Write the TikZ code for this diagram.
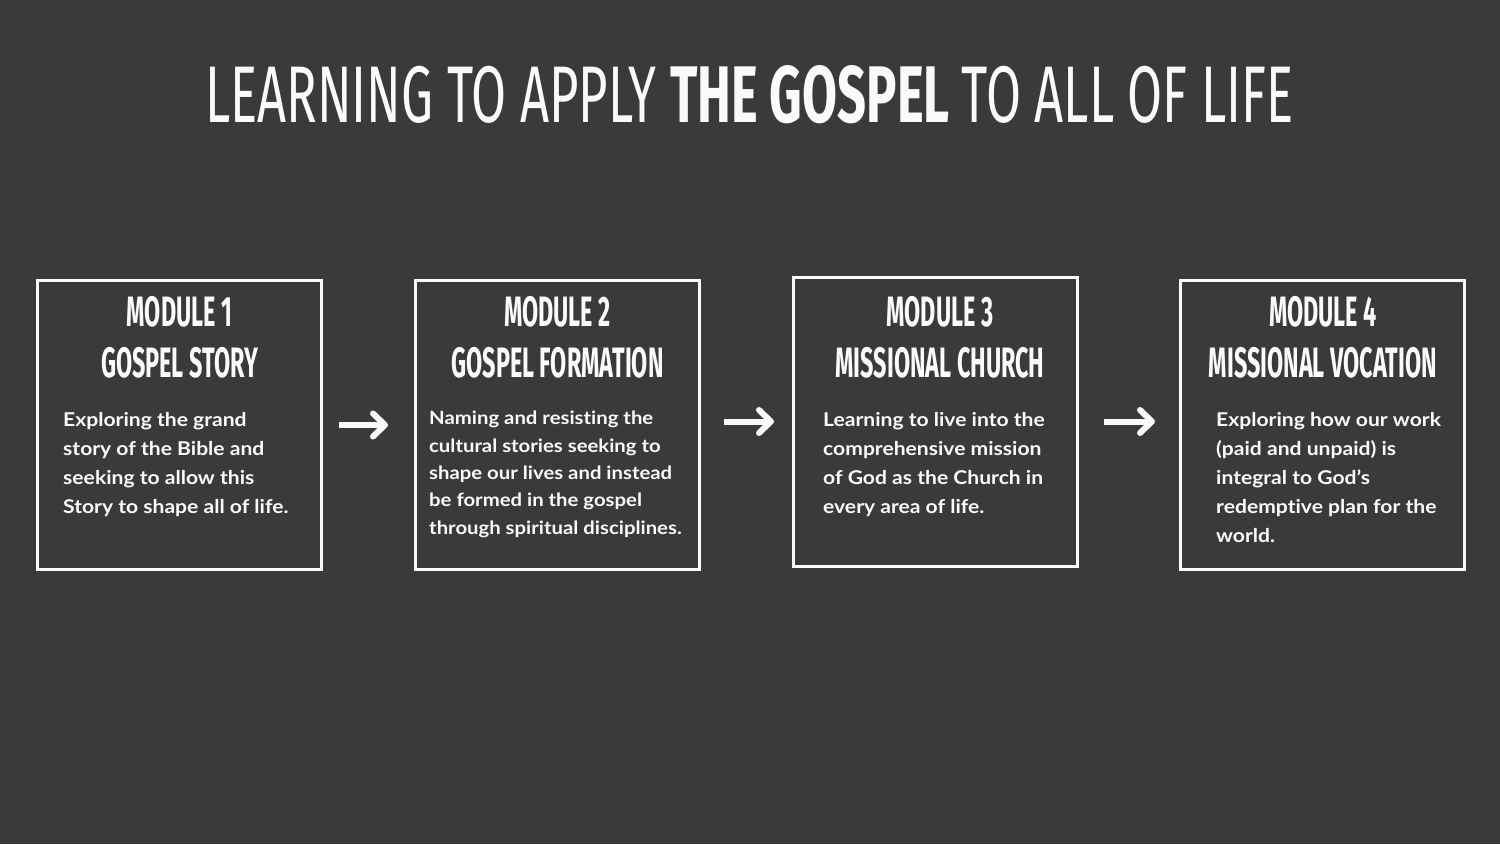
\documentclass[tikz,border=0pt]{standalone}
\usepackage{fontspec}
\usetikzlibrary{arrows.meta}
\setmainfont{Lato}
\newfontfamily\titlereg{Fira Sans}
\newfontfamily\headfont[FakeStretch=0.55]{Fira Sans}
\newfontfamily\bodyfont[FakeStretch=1.11,Ligatures=NoCommon]{Lato}
\definecolor{bg}{RGB}{57,58,58}
\definecolor{fg}{RGB}{250,250,250}
\tikzset{
  modbox/.style={draw=fg, line width=3pt, minimum width=284pt, minimum height=289pt, inner sep=0pt},
  headtxt/.style={anchor=base, inner sep=0pt, text=fg, font=\headfont\bfseries\fontsize{42.5}{42.5}\selectfont},
  bodytxt/.style={anchor=north west, inner sep=0pt, text=fg, align=left, font=\bodyfont\bfseries\fontsize{19}{29}\selectfont},
  bodytxtsmall/.style={bodytxt, font=\bodyfont\bfseries\fontsize{18.3}{27.3}\selectfont},
  arr/.style={draw=fg, line width=6pt, -{Straight Barb[length=12pt,width=23pt,round]}}
}
\begin{document}
\begin{tikzpicture}[x=1pt,y=-1pt]
\fill[bg] (0,0) rectangle (1500,844);
\useasboundingbox (0,0) rectangle (1500,844);
\node[anchor=base west, inner sep=0pt, text=fg] (title) at (205,122)
  {\resizebox{1088pt}{57pt}{\titlereg LEARNING TO APPLY \bfseries THE GOSPEL \mdseries TO ALL OF LIFE}};
% boxes
\node[modbox] (b1) at (179.5,425) {};
\node[modbox] (b2) at (557.5,425) {};
\node[modbox] (b3) at (935.5,421.5) {};
\node[modbox] (b4) at (1322.5,425) {};
% headings
\node[headtxt] (h1a) at (179.5,326) {MODULE 1};
\node[headtxt] (h1b) at (179.5,377) {GOSPEL STORY};
\node[headtxt] (h2a) at (557.5,326) {MODULE 2};
\node[headtxt] (h2b) at (557.5,377) {GOSPEL FORMATION};
\node[headtxt] (h3a) at (940,326) {MODULE 3};
\node[headtxt] (h3b) at (940,377) {MISSIONAL CHURCH};
\node[headtxt] (h4a) at (1323,326) {MODULE 4};
\node[headtxt] (h4b) at (1323,377) {MISSIONAL VOCATION};
% body
\node[bodytxt] (t1) at (63,412.5) {Exploring the grand\\story of the Bible and\\seeking to allow this\\Story to shape all of life.};
\node[bodytxtsmall] (t2) at (429,411) {Naming and resisting the\\cultural stories seeking to\\shape our lives and instead\\be formed in the gospel\\through spiritual disciplines.};
\node[bodytxt] (t3) at (823,412.5) {Learning to live into the\\comprehensive mission\\of God as the Church in\\every area of life.};
\node[bodytxt] (t4) at (1216,412.5) {Exploring how our work\\(paid and unpaid) is\\integral to God’s\\redemptive plan for the\\world.};
% arrows
\draw[arr, shorten <=16pt, shorten >=26pt] (b1.east) -- (b2.west);
\draw[arr, shorten <=23pt, shorten >=18pt] (b2.east |- b3.west) -- (b3.west);
\draw[arr, shorten <=25pt, shorten >=24pt] (b3.east) -- (b4.west |- b3.east);
\end{tikzpicture}
\end{document}
